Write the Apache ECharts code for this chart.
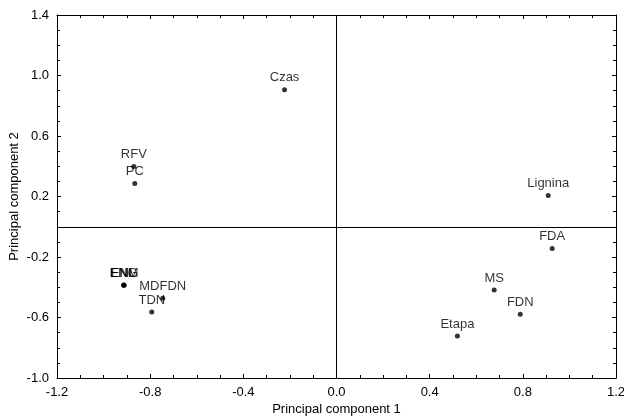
<!DOCTYPE html>
<html>
<head>
<meta charset="utf-8">
<script src="https://cdn.jsdelivr.net/npm/echarts@6/dist/echarts.min.js"></script>
<style>
  html, body { margin: 0; padding: 0; background: #fff; }
  #main { width: 624px; height: 420px; }
</style>
</head>
<body>
<div id="main"></div>
<script>
// variable names and their scores on the first two principal components
const names = ['Czas', 'RFV', 'PC', 'Lignina', 'FDA', 'MS', 'FDN', 'Etapa', 'ENL', 'ENM', 'ENG', 'MDFDN', 'TDN']
const pc1 = [-0.223, -0.870, -0.866, 0.909, 0.926, 0.677, 0.789, 0.519, -0.914, -0.912, -0.913, -0.746, -0.793]
const pc2 = [0.906, 0.398, 0.286, 0.207, -0.143, -0.419, -0.578, -0.723, -0.385, -0.387, -0.386, -0.472, -0.564]

const xTicks = [-1.2, -0.8, -0.4, 0.0, 0.4, 0.8, 1.2]
const yTicks = [-1.0, -0.6, -0.2, 0.2, 0.6, 1.0, 1.4]

const font = 'Liberation Sans, Arial, sans-serif'
const fmt = v => (Math.abs(v) < 1e-9 ? '0.0' : v.toFixed(1))

const points = names.map((n, i) => [pc1[i], pc2[i], n])

function axisBase(min, max, interval, showLabel) {
  return {
    type: 'value',
    min: min,
    max: max,
    interval: interval,
    splitLine: { show: false },
    axisLine: { show: true, onZero: false, lineStyle: { color: '#000', width: 1 } },
    axisTick: { show: true, inside: true, length: 4, lineStyle: { color: '#000' } },
    minorTick: { show: true, splitNumber: 4, length: 3, lineStyle: { color: '#000' } },
    axisLabel: {
      show: showLabel,
      color: '#000',
      fontFamily: font,
      fontSize: 13,
      formatter: fmt
    }
  }
}

let chartDom = document.getElementById('main')
let myChart = echarts.init(chartDom)
let option

option = {
  animation: false,
  backgroundColor: '#fff',
  grid: { left: 57, right: 8, top: 15, bottom: 42, containLabel: false, outerBoundsMode: 'none' },
  xAxis: [
    Object.assign(axisBase(xTicks[0], xTicks[xTicks.length - 1], 0.4, true), {
      position: 'bottom',
      name: 'Principal component 1',
      nameLocation: 'middle',
      nameGap: 25,
      nameMoveOverlap: false,
      nameTextStyle: { color: '#000', fontFamily: font, fontSize: 13 }
    }),
    Object.assign(axisBase(xTicks[0], xTicks[xTicks.length - 1], 0.4, false), { position: 'top' })
  ],
  yAxis: [
    Object.assign(axisBase(yTicks[0], yTicks[yTicks.length - 1], 0.4, true), {
      position: 'left',
      name: 'Principal component 2',
      nameLocation: 'middle',
      nameGap: 36,
      nameMoveOverlap: false,
      nameTextStyle: { color: '#000', fontFamily: font, fontSize: 13 }
    }),
    Object.assign(axisBase(yTicks[0], yTicks[yTicks.length - 1], 0.4, false), { position: 'right' })
  ],
  series: [
    {
      type: 'scatter',
      data: points,
      symbolSize: 5,
      itemStyle: { color: '#000' },
      label: {
        show: true,
        position: 'top',
        distance: 3,
        formatter: p => p.data[2],
        color: '#000',
        fontFamily: font,
        fontSize: 13
      },
      markLine: {
        silent: true,
        symbol: 'none',
        label: { show: false },
        lineStyle: { color: '#000', width: 1, type: 'solid' },
        data: [{ xAxis: 0 }, { yAxis: 0 }]
      }
    }
  ]
}

option && myChart.setOption(option)
</script>
</body>
</html>
